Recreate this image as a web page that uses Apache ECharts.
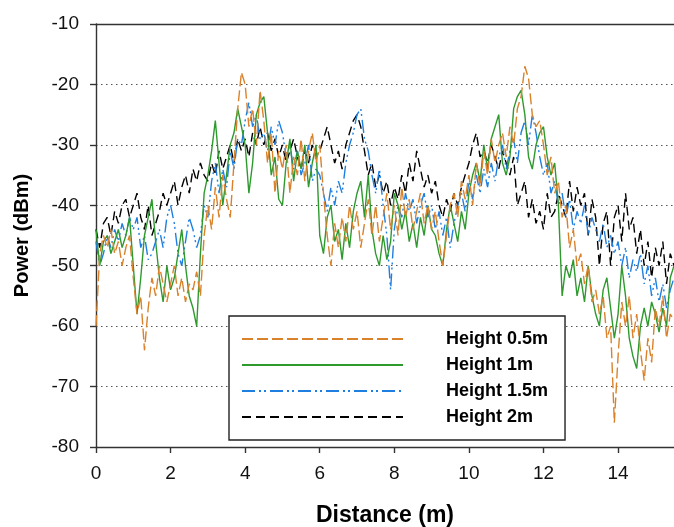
<!DOCTYPE html>
<html>
<head>
<meta charset="utf-8">
<script src="https://cdn.jsdelivr.net/npm/echarts@6/dist/echarts.min.js"></script>
<style>
html,body{margin:0;padding:0;background:#fff;}
#c{width:674px;height:527px;}
</style>
</head>
<body>
<div id="c"></div>
<script>
// Distance samples (m), step 0.1 from 0 to 15.5
const distance = [];
for (let i = 0; i <= 155; i++) distance.push(+(i / 10).toFixed(1));

const seriesNames = ['Height 0.5m', 'Height 1m', 'Height 1.5m', 'Height 2m'];

const h05 = [
  -60,-48,-45,-47,-44,-48,-46,-50,-47,-45,
  -52,-58,-55,-64,-57,-52,-55,-50,-53,-56,
  -53,-50,-55,-52,-56,-53,-54,-51,-55,-45,
  -40,-44,-37,-42,-35,-39,-42,-33,-24,-18,
  -20,-27,-24,-30,-21,-26,-33,-28,-38,-31,
  -34,-30,-38,-32,-35,-29,-36,-31,-28,-33,
  -30,-38,-45,-50,-43,-47,-42,-46,-40,-44,
  -41,-47,-43,-39,-45,-40,-46,-42,-38,-44,
  -40,-45,-37,-42,-39,-44,-41,-38,-43,-40,
  -44,-41,-46,-50,-45,-40,-38,-42,-36,-39,
  -35,-40,-33,-37,-31,-35,-29,-33,-30,-28,
  -32,-27,-30,-24,-22,-17,-19,-25,-27,-26,
  -30,-35,-32,-38,-36,-42,-40,-47,-44,-50,
  -48,-53,-50,-56,-54,-58,-55,-62,-60,-76,
  -65,-56,-60,-55,-62,-58,-64,-69,-62,-66,
  -57,-60,-55,-62,-58,-59
];
const h1 = [
  -44,-50,-46,-45,-48,-46,-44,-47,-45,-42,
  -50,-58,-52,-45,-42,-39,-46,-52,-56,-50,
  -54,-52,-48,-44,-50,-55,-57,-60,-48,-38,
  -35,-31,-26,-33,-40,-35,-30,-28,-24,-27,
  -30,-38,-33,-25,-23,-22,-28,-35,-32,-39,
  -40,-33,-29,-36,-31,-34,-30,-37,-33,-30,
  -45,-48,-42,-40,-46,-44,-49,-43,-47,-41,
  -38,-36,-42,-35,-44,-48,-50,-45,-49,-46,
  -38,-40,-44,-41,-46,-43,-47,-42,-45,-40,
  -44,-45,-48,-50,-44,-40,-43,-46,-41,-44,
  -38,-35,-33,-36,-30,-34,-29,-27,-25,-33,
  -35,-32,-24,-22,-21,-25,-32,-34,-30,-28,
  -27,-32,-35,-33,-40,-55,-50,-52,-49,-55,
  -52,-56,-50,-55,-58,-60,-54,-52,-57,-62,
  -58,-50,-55,-62,-65,-67,-60,-57,-60,-56,
  -58,-61,-57,-60,-52,-50
];
const h15 = [
  -46,-50,-48,-45,-47,-44,-46,-43,-45,-42,
  -44,-42,-47,-45,-49,-48,-46,-44,-47,-42,
  -40,-43,-48,-50,-46,-42,-44,-47,-45,-40,
  -42,-36,-33,-38,-34,-37,-31,-34,-29,-30,
  -26,-23,-27,-25,-29,-28,-31,-27,-30,-26,
  -28,-32,-30,-34,-31,-35,-33,-30,-36,-34,
  -35,-38,-41,-37,-40,-36,-38,-33,-30,-28,
  -25,-24,-29,-31,-35,-38,-34,-40,-45,-54,
  -44,-40,-42,-38,-41,-39,-43,-40,-38,-42,
  -40,-44,-41,-45,-42,-47,-43,-40,-38,-41,
  -36,-39,-35,-38,-34,-37,-33,-36,-32,-30,
  -34,-31,-29,-33,-28,-26,-30,-25,-28,-32,
  -35,-33,-38,-36,-40,-38,-42,-39,-44,-41,
  -43,-40,-45,-42,-44,-46,-43,-47,-45,-48,
  -46,-50,-47,-52,-49,-51,-48,-53,-50,-55,
  -52,-56,-53,-57,-54,-52
];
const h2 = [
  -44,-47,-43,-42,-45,-41,-43,-40,-39,-42,
  -40,-38,-42,-44,-40,-45,-43,-41,-38,-40,
  -38,-36,-40,-37,-35,-38,-34,-36,-33,-35,
  -36,-33,-35,-31,-34,-32,-30,-33,-29,-31,
  -29,-32,-28,-30,-27,-30,-28,-31,-29,-32,
  -30,-33,-31,-29,-32,-34,-31,-33,-30,-32,
  -31,-29,-27,-30,-33,-31,-34,-30,-28,-26,
  -25,-27,-31,-35,-33,-37,-35,-38,-36,-40,
  -37,-39,-35,-38,-33,-36,-31,-34,-37,-35,
  -38,-36,-40,-42,-39,-41,-38,-40,-37,-35,
  -33,-30,-28,-32,-31,-33,-30,-32,-34,-31,
  -33,-35,-32,-40,-38,-36,-42,-39,-43,-41,
  -44,-38,-42,-41,-38,-40,-42,-36,-41,-37,
  -40,-38,-45,-39,-42,-50,-43,-41,-50,-42,
  -40,-46,-38,-44,-42,-48,-44,-50,-46,-52,
  -47,-50,-46,-53,-48,-50
];

const xTicks = [0, 2, 4, 6, 8, 10, 12, 14];
const yTicks = [-80, -70, -60, -50, -40, -30, -20, -10];

function pairs(vals) { return vals.map((v, i) => [distance[i], v]); }

const styles = [
  { color: '#D9822B', type: [11, 4], width: 1.4 },
  { color: '#2E9A2E', type: 'solid', width: 1.4 },
  { color: '#1F7FE0', type: [13, 4, 2, 3, 2, 4], width: 1.4 },
  { color: '#000000', type: [9, 5], width: 1.4 }
];
const datas = [h05, h1, h15, h2];

const chart = echarts.init(document.getElementById('c'), null, { renderer: 'canvas' });
const font = '"Liberation Sans", Arial, sans-serif';
chart.setOption({
  animation: false,
  backgroundColor: '#ffffff',
  grid: { left: 96, right: 0, top: 24, bottom: 80, containLabel: false, outerBoundsMode: 'none' },
  xAxis: [{
    type: 'value', min: 0, max: 15.5, interval: 2,
    name: 'Distance (m)', nameLocation: 'middle', nameGap: 57,
    nameTextStyle: { fontFamily: font, fontWeight: 'bold', fontSize: 23, color: '#000' },
    axisLine: { show: true, lineStyle: { color: '#333', width: 1.4 } },
    axisTick: { show: true, inside: false, length: 6, lineStyle: { color: '#333', width: 1.4 } },
    axisLabel: { fontFamily: font, fontSize: 19, color: '#111', margin: 17, showMaxLabel: false },
    splitLine: { show: false }
  }, {
    type: 'value', min: 0, max: 15.5, position: 'top',
    axisLine: { show: true, lineStyle: { color: '#333', width: 1.4 } },
    axisTick: { show: false }, axisLabel: { show: false }, splitLine: { show: false }
  }],
  yAxis: {
    type: 'value', min: -80, max: -10, interval: 10,
    name: 'Power (dBm)', nameLocation: 'middle', nameGap: 64, nameRotate: 90,
    nameTextStyle: { fontFamily: font, fontWeight: 'bold', fontSize: 20, color: '#000' },
    axisLine: { show: true, lineStyle: { color: '#333', width: 1.4 } },
    axisTick: { show: true, inside: false, length: 6, lineStyle: { color: '#333', width: 1.4 } },
    axisLabel: { fontFamily: font, fontSize: 19, color: '#111', margin: 17 },
    splitLine: { show: true, lineStyle: { color: '#555', type: [1.5, 3.5], width: 1 } }
  },
  legend: {
    show: true, orient: 'vertical', left: 229, top: 316,
    data: seriesNames,
    itemWidth: 161, itemHeight: 14, itemGap: 8,
    itemStyle: { opacity: 0 },
    backgroundColor: '#fff', borderColor: '#222', borderWidth: 1.4,
    padding: [14, 17, 14, 12],
    textStyle: { fontFamily: font, fontWeight: 'bold', fontSize: 18, color: '#000', padding: [0, 0, 0, 38] }
  },
  series: datas.map((d, k) => ({
    name: seriesNames[k], type: 'line', data: pairs(d),
    symbol: 'none', showSymbol: false, smooth: false,
    lineStyle: styles[k], itemStyle: { color: styles[k].color },
    z: 10 - k, clip: true
  }))
});
</script>
</body>
</html>
